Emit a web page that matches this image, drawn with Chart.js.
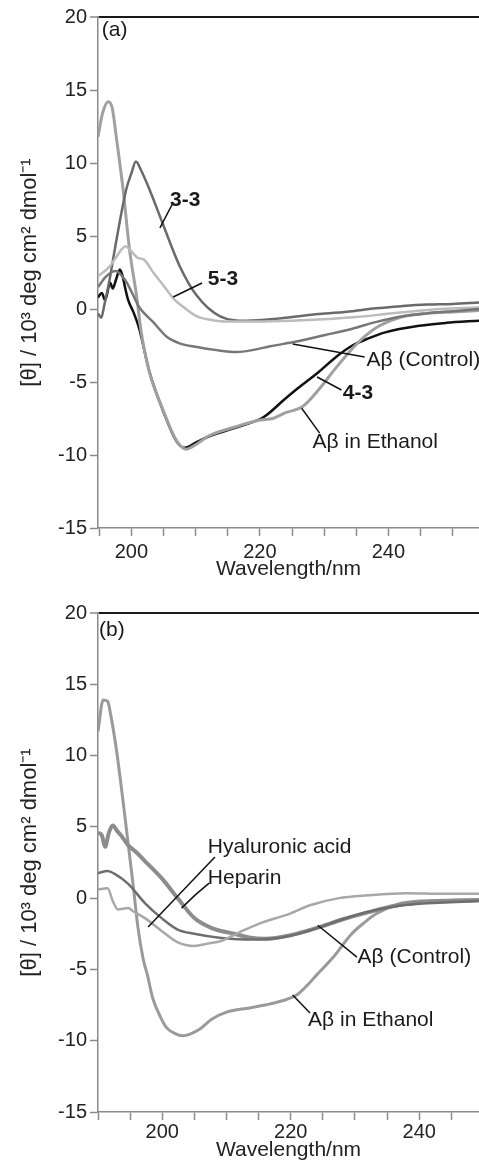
<!DOCTYPE html>
<html>
<head>
<meta charset="utf-8">
<script src="https://cdn.jsdelivr.net/npm/chart.js@4.4.1/dist/chart.umd.min.js"></script>
<style>
body { margin: 0; background: #fff; }
canvas { display: block; }
</style>
</head>
<body>
<canvas id="cdA" width="479" height="581"></canvas>
<canvas id="cdB" width="479" height="581"></canvas>
<script>
// CD spectra, wavelength in nm, [θ] in 10^3 deg cm2 dmol-1

// panel (a)
var a_eth_nm = [194.8, 195.5, 196.4, 197.0, 197.7, 198.7, 199.7, 200.8, 201.5, 202.8, 205.0, 207.0, 208.5, 210.0, 212.0, 216.0, 220.0, 222.0, 224.0, 226.6, 229.2, 231.7, 234.4, 236.5, 238.6, 242.0, 246.0, 250.0, 254.1];
var a_eth_val = [11.8, 13.4, 14.2, 13.8, 11.6, 8.2, 4.1, 0.9, -1.5, -4.3, -7.0, -9.0, -9.6, -9.3, -8.7, -8.1, -7.6, -7.5, -7.1, -6.7, -5.5, -4.1, -2.7, -1.8, -1.15, -0.55, -0.3, -0.2, -0.1];

var a_43_nm = [194.8, 195.4, 195.9, 196.7, 197.1, 197.6, 198.2, 198.6, 199.0, 199.5, 200.3, 201.25, 202.8, 205.0, 207.0, 208.3, 210.2, 212.2, 216.4, 220.6, 223.8, 226.0, 229.2, 231.8, 234.4, 237.0, 239.5, 244.8, 249.0, 254.1];
var a_43_val = [0.8, 1.1, 0.6, 1.8, 1.4, 2.0, 2.7, 2.3, 1.5, 0.6, -0.2, -1.4, -4.3, -7.05, -9.05, -9.5, -9.1, -8.7, -8.1, -7.4, -6.2, -5.4, -4.3, -3.3, -2.5, -2.0, -1.6, -1.15, -0.95, -0.8];

var a_33_nm = [194.8, 195.3, 195.8, 196.6, 197.7, 199.2, 200.0, 200.7, 201.5, 202.8, 205.0, 207.5, 210.2, 213.8, 218.0, 223.0, 229.2, 234.4, 238.0, 242.2, 246.0, 250.0, 254.1];
var a_33_val = [-0.3, -0.6, 0.3, 2.0, 4.8, 8.2, 9.3, 10.1, 9.5, 8.2, 5.7, 2.95, 0.9, -0.5, -0.8, -0.65, -0.35, -0.15, 0.05, 0.2, 0.3, 0.35, 0.45];

var a_53_nm = [194.8, 196.6, 197.7, 198.5, 199.1, 199.7, 200.3, 201.0, 201.9, 203.4, 205.0, 206.6, 208.5, 210.2, 212.5, 214.4, 219.5, 225.0, 230.0, 235.0, 239.5, 244.0, 248.0, 254.1];
var a_53_val = [2.25, 2.9, 3.6, 4.1, 4.3, 4.1, 3.8, 3.5, 3.4, 2.5, 1.6, 0.7, 0.0, -0.5, -0.75, -0.85, -0.85, -0.8, -0.7, -0.55, -0.35, -0.15, 0.0, 0.1];

var a_ctl_nm = [194.8, 196.0, 197.5, 199.0, 200.0, 201.25, 203.4, 205.5, 207.5, 210.2, 213.0, 216.4, 219.0, 221.6, 225.5, 230.0, 234.4, 238.0, 242.2, 246.0, 250.0, 254.1];
var a_ctl_val = [1.5, 2.2, 2.6, 2.0, 1.2, 0.1, -0.9, -1.9, -2.35, -2.6, -2.8, -2.95, -2.8, -2.55, -2.25, -1.8, -1.35, -0.9, -0.5, -0.3, -0.15, 0.0];

// panel (b)
var b_eth_nm = [190.0, 190.8, 191.5, 192.0, 192.9, 193.9, 194.7, 195.5, 196.2, 197.0, 197.75, 198.5, 199.9, 200.7, 202.0, 203.2, 204.5, 205.8, 207.7, 210.0, 213.6, 216.0, 218.7, 220.9, 222.6, 224.0, 226.5, 229.5, 231.5, 233.3, 236.8, 240.0, 244.0, 249.3];
var b_eth_val = [11.7, 13.9, 13.8, 12.8, 10.3, 6.8, 3.8, 0.8, -2.0, -4.2, -5.5, -7.0, -8.5, -9.1, -9.5, -9.65, -9.5, -9.2, -8.5, -8.0, -7.7, -7.5, -7.2, -6.8, -6.1, -5.4, -4.2, -2.5, -1.7, -1.1, -0.4, -0.2, -0.15, -0.1];

var b_hep_nm = [190.0, 190.6, 191.1, 191.7, 192.3, 193.0, 193.6, 194.7, 196.0, 197.3, 199.9, 202.4, 205.0, 207.7, 211.2, 213.5, 216.0, 220.0, 224.0, 228.0, 232.0, 236.0, 240.0, 244.0, 249.3];
var b_hep_val = [4.6, 4.4, 3.6, 4.6, 5.1, 4.7, 4.4, 3.7, 3.2, 2.6, 1.4, 0.0, -1.4, -2.1, -2.5, -2.75, -2.85, -2.6, -2.1, -1.5, -1.0, -0.55, -0.3, -0.2, -0.15];

var b_ctl_nm = [190.0, 191.5, 192.6, 194.7, 197.3, 199.9, 202.4, 205.0, 209.2, 212.8, 215.0, 218.0, 222.0, 224.4, 228.0, 231.6, 236.0, 240.0, 244.0, 249.3];
var b_ctl_val = [1.75, 1.9, 1.7, 1.0, -0.35, -1.4, -2.2, -2.5, -2.8, -2.9, -2.9, -2.8, -2.4, -2.05, -1.5, -1.0, -0.6, -0.4, -0.3, -0.2];

var b_hya_nm = [190.0, 191.5, 192.3, 193.1, 194.7, 195.4, 197.3, 199.9, 202.4, 205.0, 207.0, 209.2, 212.0, 215.0, 219.8, 223.0, 227.5, 232.0, 238.0, 244.0, 249.3];
var b_hya_val = [0.6, 0.7, -0.2, -0.8, -0.7, -0.9, -1.4, -2.3, -3.1, -3.35, -3.2, -3.0, -2.4, -1.8, -1.1, -0.5, 0.0, 0.2, 0.35, 0.3, 0.3];

var yTicks = [-15, -10, -5, 0, 5, 10, 15, 20];
var xLabels = [200, 220, 240];

// callouts in data units: text, left/middle anchor, leader line
var a_notes = [
    { text: '(a)', at: [195.4, 19.1] },
    { text: '3-3', bold: true, at: [206.0, 7.47], line: [[206.46, 7.26], [204.44, 5.55]] },
    { text: '5-3', bold: true, at: [211.9, 2.05], line: [[211.0, 1.78], [206.5, 0.82]] },
    { text: 'Aβ (Control)', at: [236.6, -3.49], line: [[236.3, -3.29], [225.1, -2.4]] },
    { text: '4-3', bold: true, at: [232.9, -5.75], line: [[232.7, -5.55], [228.9, -4.66]] },
    { text: 'Aβ in Ethanol', at: [228.2, -9.1], line: [[229.3, -8.5], [226.5, -6.8]] }
];
var b_notes = [
    { text: '(b)', at: [190.15, 18.8] },
    { text: 'Hyaluronic acid', at: [207.1, 3.58], line: [[208.2, 2.88], [197.8, -2.03]] },
    { text: 'Heparin', at: [207.1, 1.4], line: [[207.3, 1.05], [205.1, 0.21], [203.0, -0.7]] },
    { text: 'Aβ (Control)', at: [230.4, -4.14], line: [[230.3, -4.14], [224.2, -1.9]] },
    { text: 'Aβ in Ethanol', at: [222.7, -8.56], line: [[223.0, -8.06], [220.3, -6.8]] }
];

Chart.defaults.font.family = '"Liberation Sans", Arial, sans-serif';
Chart.defaults.color = '#222';

function pts(nm, val) {
    return nm.map(function (x, i) { return { x: x, y: val[i] }; });
}

function curve(label, nm, val, color, width) {
    return {
        label: label,
        data: pts(nm, val),
        borderColor: color,
        borderWidth: width,
        pointRadius: 0,
        fill: false,
        cubicInterpolationMode: 'monotone'
    };
}

function notesPlugin(notes) {
    return {
        id: 'notes',
        afterDatasetsDraw: function (chart) {
            var ctx = chart.ctx, xs = chart.scales.x, ys = chart.scales.y;
            ctx.save();
            ctx.strokeStyle = '#111';
            ctx.lineWidth = 1.5;
            ctx.fillStyle = '#1a1a1a';
            ctx.textAlign = 'left';
            ctx.textBaseline = 'middle';
            notes.forEach(function (n) {
                if (n.line) {
                    ctx.beginPath();
                    n.line.forEach(function (p, i) {
                        var px = xs.getPixelForValue(p[0]), py = ys.getPixelForValue(p[1]);
                        if (i === 0) ctx.moveTo(px, py); else ctx.lineTo(px, py);
                    });
                    ctx.stroke();
                }
                ctx.font = (n.bold ? 'bold ' : '') + '21px "Liberation Sans", Arial, sans-serif';
                ctx.fillText(n.text, xs.getPixelForValue(n.at[0]), ys.getPixelForValue(n.at[1]));
            });
            ctx.restore();
        }
    };
}

function panelOptions(xmin, xmax, topPad, axisH, labelPad) {
    return {
        responsive: false,
        animation: false,
        layout: { padding: { left: 0, right: 0, top: topPad, bottom: 0 } },
        plugins: {
            legend: { display: false },
            tooltip: { enabled: false }
        },
        scales: {
            x: {
                type: 'linear',
                min: xmin,
                max: xmax,
                afterFit: function (s) { s.height = axisH; },
                border: { color: '#8a8a8a', width: 1.5 },
                grid: { drawOnChartArea: false, tickLength: 8, color: '#8a8a8a', tickWidth: 1.5 },
                ticks: {
                    stepSize: 5,
                    includeBounds: false,
                    autoSkip: false,
                    maxRotation: 0,
                    padding: labelPad,
                    font: { size: 20 },
                    callback: function (v) { return xLabels.indexOf(v) >= 0 ? String(v) : ''; }
                },
                title: {
                    display: true,
                    text: 'Wavelength/nm',
                    font: { size: 21, lineHeight: 1.1 },
                    padding: { top: 0, bottom: 0 }
                }
            },
            y: {
                min: yTicks[0],
                max: yTicks[yTicks.length - 1],
                afterFit: function (s) { s.width = 98; },
                afterBuildTicks: function (s) { s.ticks = yTicks.map(function (v) { return { value: v }; }); },
                border: { color: '#8a8a8a', width: 1.5 },
                grid: {
                    drawOnChartArea: true,
                    tickLength: 8,
                    tickColor: '#8a8a8a',
                    tickWidth: 1.5,
                    color: function (c) { return c.tick && c.tick.value === 20 ? '#1a1a1a' : 'rgba(0,0,0,0)'; },
                    lineWidth: function (c) { return c.tick && c.tick.value === 20 ? 2 : 1; }
                },
                ticks: { padding: 3, font: { size: 20 } },
                title: {
                    display: true,
                    text: '[θ] / 10³ deg cm² dmol⁻¹',
                    font: { size: 22, lineHeight: 1.2 },
                    padding: { top: 17, bottom: 0 }
                }
            }
        }
    };
}

var chartA = new Chart(document.getElementById('cdA').getContext('2d'), {
    type: 'line',
    data: {
        datasets: [
            curve('Aβ (Control)', a_ctl_nm, a_ctl_val, '#777777', 2.5),
            curve('5-3', a_53_nm, a_53_val, '#bcbcbc', 2.5),
            curve('3-3', a_33_nm, a_33_val, '#6a6a6a', 2.5),
            curve('Aβ in Ethanol', a_eth_nm, a_eth_val, '#a0a0a0', 3),
            curve('4-3', a_43_nm, a_43_val, '#111111', 2.5)
        ]
    },
    options: panelOptions(194.8, 254.1, 17, 53, 4),
    plugins: [notesPlugin(a_notes)]
});

var chartB = new Chart(document.getElementById('cdB').getContext('2d'), {
    type: 'line',
    data: {
        datasets: [
            curve('Hyaluronic acid', b_hya_nm, b_hya_val, '#a8a8a8', 2.5),
            curve('Aβ (Control)', b_ctl_nm, b_ctl_val, '#6e6e6e', 2.5),
            curve('Heparin', b_hep_nm, b_hep_val, '#8c8c8c', 4),
            curve('Aβ in Ethanol', b_eth_nm, b_eth_val, '#9a9a9a', 3)
        ]
    },
    options: panelOptions(190, 249.3, 32, 50, 0),
    plugins: [notesPlugin(b_notes)]
});
</script>
</body>
</html>
